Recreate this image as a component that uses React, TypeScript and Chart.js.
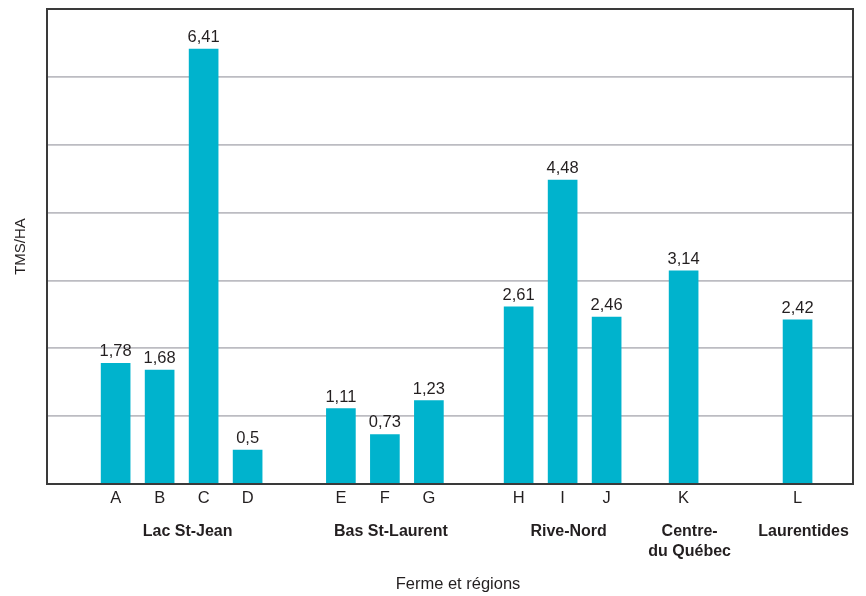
import React, { useEffect, useRef } from "react";
import { Chart, registerables } from "chart.js";

Chart.register(...registerables);

// Farms and their yield (TMS/HA)
const farmLabels = ["A", "B", "C", "D", "E", "F", "G", "H", "I", "J", "K", "L"];
const farmValues = [1.78, 1.68, 6.41, 0.5, 1.11, 0.73, 1.23, 2.61, 4.48, 2.46, 3.14, 2.42];
// Slot of each farm along the horizontal axis (1 = spacing between neighbouring farms)
const farmSlots = [1.56, 2.56, 3.56, 4.56, 6.68, 7.68, 8.68, 10.72, 11.72, 12.72, 14.47, 17.06];
const slotMax = 18.32;

// Regions and the farms that belong to each
const regionNames = [["Lac St-Jean"], ["Bas St-Laurent"], ["Rive-Nord"], ["Centre-", "du Québec"], ["Laurentides"]];
const regionFarms = [["A", "B", "C", "D"], ["E", "F", "G"], ["H", "I", "J"], ["K"], ["L"]];

const yTicks = [0, 1, 2, 3, 4, 5, 6, 7];

const FONT = "'Liberation Sans', Arial, sans-serif";
const TEXT = "#231f20";
const BAR = "#00b3cd";

const fmt = (v: number) => String(v).replace(".", ",");

const valueLabels = {
  id: "valueLabels",
  afterDatasetsDraw(chart: any) {
    const { ctx } = chart;
    const meta = chart.getDatasetMeta(0);
    ctx.save();
    ctx.font = `16.5px ${FONT}`;
    ctx.fillStyle = TEXT;
    ctx.textAlign = "center";
    ctx.textBaseline = "alphabetic";
    meta.data.forEach((bar: any, i: number) => {
      ctx.fillText(fmt(farmValues[i]), bar.x, bar.y - 7);
    });
    ctx.restore();
  },
};

const frameAndRegions = {
  id: "frameAndRegions",
  afterDraw(chart: any) {
    const { ctx, chartArea } = chart;
    const xs = chart.scales.x;
    ctx.save();
    // plot frame
    ctx.strokeStyle = "#3a3a3a";
    ctx.lineWidth = 2;
    ctx.strokeRect(chartArea.left, chartArea.top, chartArea.right - chartArea.left, chartArea.bottom - chartArea.top);
    // region names under the farm letters
    ctx.font = `bold 16px ${FONT}`;
    ctx.fillStyle = TEXT;
    ctx.textAlign = "center";
    ctx.textBaseline = "alphabetic";
    regionFarms.forEach((farms, r) => {
      const first = farmSlots[farmLabels.indexOf(farms[0])];
      const last = farmSlots[farmLabels.indexOf(farms[farms.length - 1])];
      const cx = (xs.getPixelForValue(first) + xs.getPixelForValue(last)) / 2 + 6;
      regionNames[r].forEach((line, k) => {
        ctx.fillText(line, cx, chartArea.bottom + 52 + k * 20);
      });
    });
    // horizontal axis title
    ctx.font = `16.5px ${FONT}`;
    ctx.fillText("Ferme et régions", (chartArea.left + chartArea.right) / 2 + 8, chartArea.bottom + 105);
    ctx.restore();
  },
};

export default function App() {
  const ref = useRef<HTMLCanvasElement | null>(null);

  useEffect(() => {
    if (!ref.current) return;
    const chart = new Chart(ref.current, {
      type: "bar",
      data: {
        datasets: [
          {
            data: farmSlots.map((x, i) => ({ x, y: farmValues[i] })),
            backgroundColor: BAR,
            borderWidth: 0,
            barThickness: 29,
          },
        ],
      },
      options: {
        animation: false,
        responsive: true,
        maintainAspectRatio: false,
        layout: { padding: { top: 9, right: 13, left: 0, bottom: 0 } },
        plugins: { legend: { display: false }, tooltip: { enabled: false } },
        scales: {
          x: {
            type: "linear",
            min: 0,
            max: slotMax,
            offset: false,
            afterBuildTicks: (scale: any) => {
              scale.ticks = farmSlots.map((v) => ({ value: v }));
            },
            afterFit: (scale: any) => {
              scale.height = 112;
            },
            grid: { display: false, offset: false, drawTicks: false },
            border: { display: false },
            ticks: {
              autoSkip: false,
              maxRotation: 0,
              padding: 5,
              color: TEXT,
              font: { family: FONT, size: 16.5 },
              callback: (value: any) => farmLabels[farmSlots.indexOf(Number(value))] ?? "",
            },
          },
          y: {
            min: 0,
            max: 7,
            afterBuildTicks: (scale: any) => {
              scale.ticks = yTicks.map((v) => ({ value: v }));
            },
            afterFit: (scale: any) => {
              scale.width = 47;
            },
            grid: { color: "#bcbcc2", lineWidth: 1.8, drawTicks: false },
            border: { display: false },
            ticks: { display: false },
            title: {
              display: true,
              text: "TMS/HA",
              color: TEXT,
              font: { family: FONT, size: 15 },
              padding: { top: 12, bottom: 0 },
            },
          },
        },
      },
      plugins: [valueLabels, frameAndRegions],
    });
    return () => chart.destroy();
  }, []);

  return (
    <div style={{ position: "fixed", left: 0, top: 0, width: 866, height: 596, background: "#fff" }}>
      <canvas ref={ref} />
    </div>
  );
}
